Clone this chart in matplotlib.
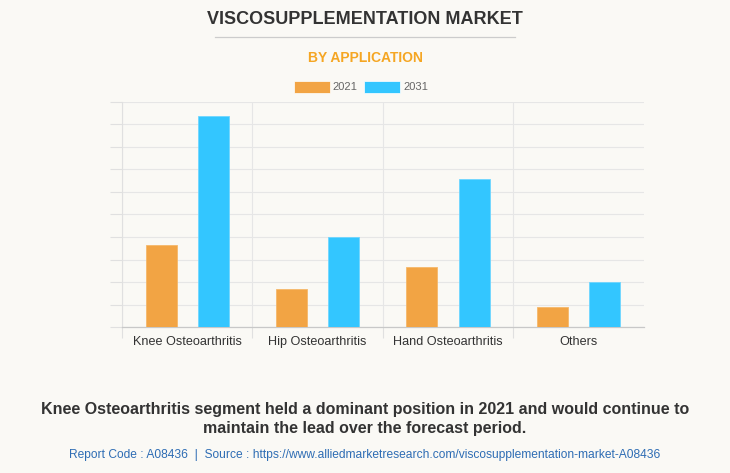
import matplotlib
matplotlib.use("Agg")
import matplotlib.pyplot as plt
import numpy as np
from matplotlib.patches import Rectangle

categories = ["Knee Osteoarthritis", "Hip Osteoarthritis", "Hand Osteoarthritis", "Others"]
series_names = ["2021", "2031"]
values_2021 = [3.65, 1.70, 2.67, 0.90]
values_2031 = [9.37, 3.99, 6.57, 2.02]
ytick_values = list(range(0, 11))

BG = "#FAF9F5"
ORANGE = "#F2A444"
BLUE = "#33C6FF"
DARK = "#333333"

plt.rcParams['font.family'] = ['Liberation Sans', 'DejaVu Sans']

W, H = 730, 473
fig = plt.figure(figsize=(W / 100, H / 100), dpi=100, facecolor=BG)

def fx(px):
    return px / W

def fy(py):
    return 1 - py / H

left, right, top, bottom = 122, 643.6, 101.7, 327.3
ax = fig.add_axes([fx(left), fy(bottom), fx(right - left), (bottom - top) / H])
ax.set_facecolor(BG)

x = np.arange(len(categories))
bw = 0.238
off = 0.2
ax.bar(x - off, values_2021, bw, color=ORANGE, edgecolor="#F5B86A", linewidth=0.6, zorder=3, label=series_names[0])
ax.bar(x + off, values_2031, bw, color=BLUE, edgecolor="#6FD6FF", linewidth=0.6, zorder=3, label=series_names[1])

ax.set_xlim(-0.5, len(categories) - 0.5)
ax.set_ylim(0, 10)
ax.set_yticks(ytick_values)
ax.set_yticklabels([])
ax.tick_params(axis='y', length=9, color="#E0E0E0", width=0.8)
ax.yaxis.grid(True, color="#E6E6E6", linewidth=0.8, zorder=0)

ax.set_xticks(x)
ax.set_xticklabels(categories, fontsize=9.1, color=DARK)
ax.tick_params(axis='x', length=0, pad=6)
ax.set_xticks(np.arange(-0.5, len(categories) - 0.5, 1), minor=True)
ax.tick_params(axis='x', which='minor', length=8, color="#E0E0E0", width=0.8)
ax.xaxis.grid(True, which='minor', color="#E6E6E6", linewidth=0.8, zorder=0)

for s in ['top', 'right']:
    ax.spines[s].set_visible(False)
ax.spines['left'].set_color("#E0E0E0")
ax.spines['left'].set_linewidth(0.8)
ax.spines['bottom'].set_color("#C8C8C8")
ax.spines['bottom'].set_linewidth(0.9)
ax.set_axisbelow(True)

# Title
fig.text(0.5, fy(20), "VISCOSUPPLEMENTATION MARKET", ha='center', va='center',
         fontsize=13, fontweight='bold', color=DARK)
fig.add_artist(plt.Line2D([fx(215), fx(515)], [fy(37.5), fy(37.5)], color="#CCCCCC", linewidth=0.9))
fig.text(0.5, fy(58.5), "BY APPLICATION", ha='center', va='center',
         fontsize=10, fontweight='bold', color="#F5A623")

# Legend
for (x0, x1, tx, col, name) in [(293.5, 329.5, 332.5, ORANGE, series_names[0]),
                                 (363.5, 400, 403.5, BLUE, series_names[1])]:
    fig.add_artist(Rectangle((fx(x0), fy(93)), fx(x1 - x0), 12 / H, facecolor=col,
                             edgecolor="#FFFFFF", linewidth=0.5, transform=fig.transFigure))
    fig.text(fx(tx), fy(87), name, ha='left', va='center', fontsize=8, color="#666666")

# Bottom text
fig.text(0.5, fy(409), "Knee Osteoarthritis segment held a dominant position in 2021 and would continue to",
         ha='center', va='center', fontsize=11.5, fontweight='bold', color=DARK)
fig.text(0.5, fy(428), "maintain the lead over the forecast period.",
         ha='center', va='center', fontsize=11.5, fontweight='bold', color=DARK)
fig.text(fx(364.5), fy(454.5), "Report Code : A08436  |  Source : https://www.alliedmarketresearch.com/viscosupplementation-market-A08436",
         ha='center', va='center', fontsize=8.65, color="#2E6DB4")

fig.savefig("out.png", dpi=100, facecolor=BG)
